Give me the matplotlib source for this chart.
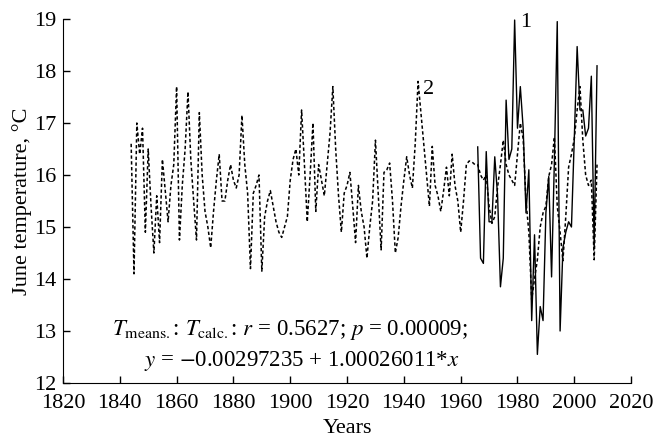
import numpy as np
import matplotlib
matplotlib.use("Agg")
import matplotlib.pyplot as plt

### data
# dashed line (2): calculated, 1844-2008
calc_years = np.arange(1844, 2009)
calc_temp = [
    16.6, 14.1, 17.0, 16.4, 16.9, 14.9, 16.5, 15.4, 14.5, 15.6,   # 1844-1853
    14.7, 16.3, 15.7, 15.1, 15.8, 16.2, 17.7, 14.75, 15.8, 16.5,  # 1854-1863
    17.6, 16.3, 15.5, 14.75, 17.2, 16.0, 15.3, 15.0, 14.6, 15.3,  # 1864-1873
    15.9, 16.4, 15.5, 15.5, 15.9, 16.2, 15.9, 15.75, 16.0, 17.15, # 1874-1883
    16.2, 15.65, 14.2, 15.65, 15.8, 16.0, 14.15, 15.2, 15.5, 15.7, # 1884-1893
    15.4, 15.1, 14.9, 14.8, 15.0, 15.2, 15.9, 16.3, 16.5, 16.0,   # 1894-1903
    17.25, 16.2, 15.1, 16.0, 17.0, 15.3, 16.2, 15.9, 15.6, 16.2,  # 1904-1913
    16.8, 17.7, 16.5, 15.6, 14.9, 15.65, 15.8, 16.05, 15.4, 14.7, # 1914-1923
    15.8, 15.3, 15.0, 14.4, 15.0, 15.5, 16.67, 15.6, 14.56, 16.05, # 1924-1933
    16.1, 16.23, 15.5, 14.5, 14.8, 15.4, 15.9, 16.35, 16.0, 15.75, # 1934-1943
    16.6, 17.8, 17.2, 16.6, 16.0, 15.4, 16.55, 15.8, 15.6, 15.3,  # 1944-1953
    15.7, 16.15, 15.6, 16.4, 15.8, 15.5, 14.9, 15.5, 16.2, 16.27, # 1954-1963
    16.25, 16.2, 16.2, 16.0, 15.9, 16.0, 15.4, 15.07, 15.2, 15.77, # 1964-1973
    16.2, 16.67, 16.2, 16.0, 15.9, 15.8, 16.4, 17.0, 16.7, 15.5,  # 1974-1983
    14.9, 13.6, 14.0, 14.37, 15.0, 15.27, 15.4, 15.97, 16.2, 16.73, # 1984-1993
    15.4, 14.9, 14.35, 15.2, 16.15, 16.4, 16.7, 17.25, 17.7, 16.67, # 1994-2003
    16.0, 15.8, 15.9, 14.37, 16.2,                                 # 2004-2008
]

# solid line (1): measured means, 1966-2008
mean_years = np.arange(1966, 2009)
mean_temp = [
    16.54, 14.4, 14.3, 16.45, 15.1, 15.1, 16.35, 15.6, 13.85, 14.4,  # 1966-1975
    17.44, 16.3, 16.5, 18.98, 16.9, 17.7, 16.9, 15.27, 16.1, 13.2,   # 1976-1985
    14.85, 12.55, 13.47, 13.2, 15.27, 15.97, 14.04, 16.3, 18.95, 13.0, # 1986-1995
    14.6, 14.9, 15.1, 15.0, 16.7, 18.47, 17.25, 17.25, 16.75, 16.9,  # 1996-2005
    17.9, 14.6, 18.1,                                                # 2006-2008
]

x_ticks = np.arange(1820, 2021, 20)
y_ticks = np.arange(12, 20, 1)

### plot
plt.rcParams["font.family"] = ["Liberation Serif", "DejaVu Serif"]
plt.rcParams["mathtext.fontset"] = "stix"

fig = plt.figure(figsize=(6.54, 4.42), dpi=100)
ax = fig.add_axes([0.0963, 0.1335, 0.8687, 0.8235])

ax.plot(calc_years, calc_temp, color="black", lw=1.1, linestyle=(0, (2.2, 1.6)))
ax.plot(mean_years, mean_temp, color="black", lw=1.0)

ax.set_xlim(1820, 2020)
ax.set_ylim(12, 19)
ax.set_xticks(x_ticks)
ax.set_yticks(y_ticks)
ax.tick_params(direction="in", labelsize=16, length=5, width=1)
ax.tick_params(axis="x", pad=8)
ax.tick_params(axis="y", pad=5)
ax.spines["top"].set_visible(False)
ax.spines["right"].set_visible(False)

ax.set_xlabel("Years", fontsize=16, labelpad=4)
ax.set_ylabel("June temperature, °C", fontsize=16, labelpad=1)

# labels for the curves
ax.text(1980.8, 18.85, "1", fontsize=16)
ax.text(1946.6, 17.55, "2", fontsize=16)

ax.text(1900, 13.02, r"$T_{\mathrm{means.}}$: $T_{\mathrm{calc.}}$: $r$ = 0.5627; $p$ = 0.00009;",
        fontsize=16.5, ha="center", va="center")
ax.text(1904, 12.42, r"$y$ = $-$0.00297235 + 1.00026011*$x$",
        fontsize=16.5, ha="center", va="center")

fig.savefig("out.png", dpi=100)
